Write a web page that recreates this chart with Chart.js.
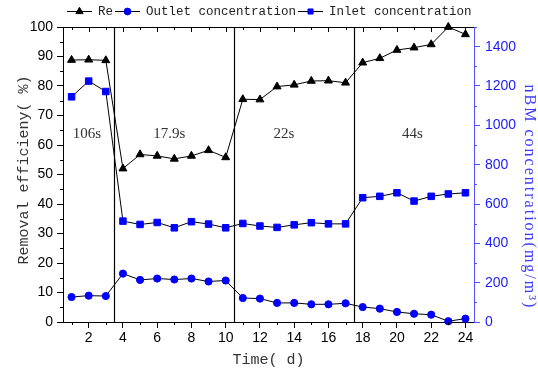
<!DOCTYPE html>
<html>
<head>
<meta charset="utf-8">
<script src="https://cdn.jsdelivr.net/npm/chart.js@4.4.1/dist/chart.umd.min.js"></script>
<style>
  html, body { margin: 0; padding: 0; background: #fff; }
  #wrap { width: 538px; height: 371px; }
</style>
</head>
<body>
<div id="wrap"><canvas id="chart" width="538" height="371"></canvas></div>
<script>
const days = [1, 2, 3, 4, 5, 6, 7, 8, 9, 10, 11, 12, 13, 14, 15, 16, 17, 18, 19, 20, 21, 22, 23, 24];
const removal = [88.8, 88.9, 88.7, 52.0, 56.8, 56.3, 55.3, 56.3, 58.2, 55.8, 75.5, 75.4, 79.8, 80.4, 81.7, 81.8, 81.1, 87.9, 89.4, 92.2, 93.0, 94.1, 100.0, 97.5];
const outlet = [127, 134, 132, 246, 214, 221, 216, 221, 206, 211, 122, 119, 97, 97, 90, 90, 95, 76, 68, 51, 42, 37, 4, 17];
const inlet = [1145, 1225, 1172, 513, 496, 506, 479, 510, 498, 479, 501, 488, 481, 494, 505, 499, 499, 632, 639, 657, 615, 639, 651, 657];
const seriesNames = ['Re', 'Outlet concentration', 'Inlet concentration'];

const xTicks = [2, 4, 6, 8, 10, 12, 14, 16, 18, 20, 22, 24];
const yTicks = [0, 10, 20, 30, 40, 50, 60, 70, 80, 90, 100];
const y1Ticks = [0, 200, 400, 600, 800, 1000, 1200, 1400];

// residence time stages
const stageBounds = [3.5, 10.5, 17.5];
const stageLabels = ['106s', '17.9s', '22s', '44s'];
const stageLabelDay = [1.9, 6.7, 13.4, 20.9];
const stageLabelLevel = 63.6;

const blue = '#0000ff';
const axisBlue = '#5050ff';
const tickBlue = '#1a1aff';
const monoFont = "'Liberation Mono', 'DejaVu Sans Mono', monospace";
const sansFont = "'Liberation Sans', Arial, sans-serif";
const serifFont = "'Liberation Serif', 'DejaVu Serif', serif";

function toPoints(values) {
  return values.map((v, i) => ({ x: days[i], y: v }));
}

function fixTicks(list) {
  return scale => { scale.ticks = list.map(v => ({ value: v })); };
}

function minorsOf(ticks, min, max) {
  const step = ticks[1] - ticks[0];
  let v = ticks[0] - step / 2;
  while (v - step >= min) v -= step;
  const out = [];
  for (; v <= max; v += step) if (v >= min) out.push(v);
  return out;
}

function line(ctx, x1, y1, x2, y2) {
  ctx.moveTo(x1, y1);
  ctx.lineTo(x2, y2);
}

const framePlugin = {
  id: 'frame',
  beforeDatasetsDraw(chart) {
    const { ctx, chartArea: a, scales } = chart;
    ctx.save();
    ctx.strokeStyle = '#000';
    ctx.lineWidth = 1.2;
    ctx.beginPath();
    stageBounds.forEach(d => {
      const px = Math.round(scales.x.getPixelForValue(d)) + 0.5;
      line(ctx, px, a.top, px, a.bottom);
    });
    ctx.stroke();
    ctx.restore();
  },
  afterDraw(chart) {
    const { ctx, chartArea: a, scales } = chart;
    const { x, y, y1 } = scales;
    ctx.save();
    ctx.lineWidth = 1;
    ctx.strokeStyle = '#000';
    ctx.beginPath();
    line(ctx, a.left, a.top + 0.5, a.right, a.top + 0.5);
    xTicks.forEach(d => {
      const px = Math.round(x.getPixelForValue(d)) + 0.5;
      line(ctx, px, a.top, px, a.top + 5);
    });
    minorsOf(xTicks, x.min, x.max).forEach(d => {
      const px = Math.round(x.getPixelForValue(d)) + 0.5;
      line(ctx, px, a.bottom, px, a.bottom + 3);
      line(ctx, px, a.top, px, a.top + 3);
    });
    minorsOf(yTicks, y.min, y.max).forEach(v => {
      const py = Math.round(y.getPixelForValue(v)) + 0.5;
      line(ctx, a.left - 3, py, a.left, py);
    });
    ctx.stroke();

    ctx.strokeStyle = axisBlue;
    ctx.beginPath();
    minorsOf(y1Ticks, y1.min, y1.max).forEach(v => {
      const py = Math.round(y1.getPixelForValue(v)) + 0.5;
      line(ctx, a.right, py, a.right + 3, py);
    });
    ctx.stroke();

    // stage labels
    ctx.fillStyle = '#333';
    ctx.font = '15px ' + serifFont;
    ctx.textAlign = 'center';
    ctx.textBaseline = 'middle';
    stageLabels.forEach((t, i) => {
      ctx.fillText(t, x.getPixelForValue(stageLabelDay[i]), y.getPixelForValue(stageLabelLevel));
    });

    // axis titles
    ctx.font = '15px ' + monoFont;
    ctx.fillText('Time( d)', (a.left + a.right) / 2, 360);
    ctx.save();
    ctx.translate(24, 170);
    ctx.rotate(-Math.PI / 2);
    ctx.fillText('Removal efficieny( %)', 0, 0);
    ctx.restore();

    ctx.save();
    ctx.fillStyle = '#3d3dff';
    ctx.font = '16px ' + serifFont;
    ctx.letterSpacing = '2px';
    ctx.translate(529, 197);
    ctx.rotate(Math.PI / 2);
    ctx.fillText('nBM concentration(mg/m\u00b3)', 0, 0);
    ctx.restore();

    drawLegend(ctx, chart);
    ctx.restore();
  }
};

function drawLegend(ctx, chart) {
  let cx = 67;
  const cy = 11;
  ctx.font = '12.5px ' + monoFont;
  ctx.textAlign = 'left';
  ctx.textBaseline = 'middle';
  chart.data.datasets.forEach(ds => {
    ctx.strokeStyle = '#000';
    ctx.lineWidth = 1;
    ctx.beginPath();
    line(ctx, cx, cy + 0.5, cx + 25, cy + 0.5);
    ctx.stroke();
    ctx.fillStyle = ds.pointBackgroundColor;
    ctx.strokeStyle = ds.pointBorderColor;
    Chart.helpers.drawPoint(ctx, {
      pointStyle: ds.pointStyle,
      radius: ds.legendRadius,
      rotation: 0,
      borderWidth: 1
    }, cx + 12.5, cy + 0.5);
    ctx.fillStyle = '#222';
    ctx.fillText(ds.label, cx + 31, cy + 1);
    cx += 31 + ctx.measureText(ds.label).width + 2;
  });
}

function createChart() {
  const ctx = document.getElementById('chart');
  return new Chart(ctx, {
    type: 'line',
    data: {
      datasets: [
        {
          label: seriesNames[0],
          data: toPoints(removal),
          yAxisID: 'y',
          borderColor: '#000',
          borderWidth: 1,
          pointStyle: 'triangle',
          pointRadius: 4.6,
          legendRadius: 4.2,
          pointBackgroundColor: '#000',
          pointBorderColor: '#000',
          clip: false
        },
        {
          label: seriesNames[1],
          data: toPoints(outlet),
          yAxisID: 'y1',
          borderColor: '#000',
          borderWidth: 1,
          pointStyle: 'circle',
          pointRadius: 3.6,
          legendRadius: 3.4,
          pointBackgroundColor: blue,
          pointBorderColor: blue,
          clip: false
        },
        {
          label: seriesNames[2],
          data: toPoints(inlet),
          yAxisID: 'y1',
          borderColor: '#000',
          borderWidth: 1,
          pointStyle: 'rect',
          pointRadius: 4.6,
          legendRadius: 3.6,
          pointBackgroundColor: blue,
          pointBorderColor: blue,
          clip: false
        }
      ]
    },
    options: {
      responsive: false,
      animation: false,
      devicePixelRatio: 1,
      events: [],
      layout: { padding: { top: 27, left: 0, right: 0, bottom: 0 } },
      plugins: {
        legend: { display: false },
        tooltip: { enabled: false }
      },
      scales: {
        x: {
          type: 'linear',
          min: 0.5,
          max: 24.5,
          afterBuildTicks: fixTicks(xTicks),
          afterFit: s => { s.height = 49; },
          ticks: {
            color: '#000',
            font: { family: sansFont, size: 14 },
            padding: 2,
            maxRotation: 0,
            autoSkip: false,
            callback: v => String(v)
          },
          grid: { drawOnChartArea: false, tickLength: 6, color: '#000' },
          border: { color: '#000', width: 1 }
        },
        y: {
          position: 'left',
          min: 0,
          max: 100,
          afterBuildTicks: fixTicks(yTicks),
          afterFit: s => { s.width = 63; },
          ticks: {
            color: '#000',
            font: { family: sansFont, size: 14 },
            padding: 4,
            autoSkip: false,
            callback: v => String(v)
          },
          grid: { drawOnChartArea: false, tickLength: 6, color: '#000' },
          border: { color: '#000', width: 1 }
        },
        y1: {
          position: 'right',
          min: 0,
          max: 1500,
          afterBuildTicks: fixTicks(y1Ticks),
          afterFit: s => { s.width = 64; },
          ticks: {
            color: tickBlue,
            font: { family: sansFont, size: 14 },
            padding: 5,
            autoSkip: false,
            callback: v => String(v)
          },
          grid: { drawOnChartArea: false, tickLength: 6, color: axisBlue },
          border: { color: axisBlue, width: 1 }
        }
      }
    },
    plugins: [framePlugin]
  });
}

createChart();
</script>
</body>
</html>
